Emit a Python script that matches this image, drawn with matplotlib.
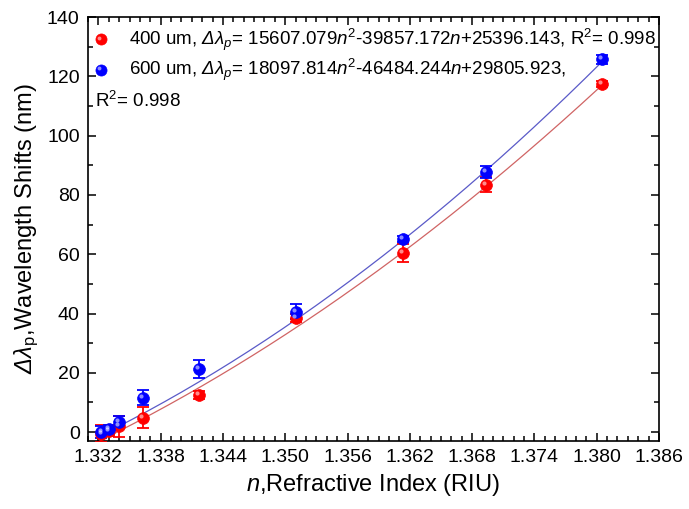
import numpy as np
import matplotlib
matplotlib.use("Agg")
import matplotlib.pyplot as plt
from matplotlib.ticker import MultipleLocator
from matplotlib.transforms import offset_copy

plt.rcParams['font.family'] = ['Liberation Sans', 'DejaVu Sans']
plt.rcParams['mathtext.fontset'] = 'custom'
plt.rcParams['mathtext.rm'] = 'Liberation Sans'
plt.rcParams['mathtext.it'] = 'Liberation Sans:italic'
plt.rcParams['mathtext.bf'] = 'Liberation Sans:bold'
# italic face also reachable through \mathsf, so capital Greek stays slanted
plt.rcParams['mathtext.sf'] = 'Liberation Sans:italic'

# Refractive index of the test solutions
n_riu = [1.3323, 1.3330, 1.3340, 1.3363, 1.3417, 1.3510, 1.3613, 1.3693, 1.3805]

# Wavelength shifts (nm) and standard deviations
shift_400 = [-0.5, 0.3, 2.0, 4.8, 12.5, 38.5, 60.5, 83.5, 117.3]
err_400 = [2.8, 1.5, 3.5, 3.5, 1.5, 1.5, 3.0, 2.5, 1.0]
shift_600 = [0.0, 1.0, 3.5, 11.6, 21.2, 40.6, 65.0, 87.8, 125.8]
err_600 = [2.0, 1.5, 1.8, 2.5, 3.0, 2.5, 1.0, 2.0, 1.5]

# Quadratic fit coefficients (a, b, c) for a*n^2 + b*n + c
fit_400 = [15607.079, -39857.172, 25396.143]
fit_600 = [18097.814, -46484.244, 29805.923]
r2_400 = 0.998
r2_600 = 0.998

x_ticks = [1.332, 1.338, 1.344, 1.350, 1.356, 1.362, 1.368, 1.374, 1.380, 1.386]
y_ticks = [0, 20, 40, 60, 80, 100, 120, 140]

fig = plt.figure(figsize=(6.89, 5.09), dpi=100)
ax = fig.add_axes([0.1277, 0.1336, 0.8288, 0.833])

red = '#ff0000'
blue = '#0000ff'
red_line = '#d06464'
blue_line = '#5a5ac8'

DL = r"\mathsf{Δλ}"


def sphere(ax, x, y, color, size=8.5, **kw):
    ax.plot(x, y, 'o', ms=size, mfc=color, mec=color, mew=0.5, zorder=4, **kw)
    hl = offset_copy(kw.get('transform', ax.transData), fig=fig, x=-1.2, y=1.4, units='points')
    ax.plot(x, y, 'o', ms=size * 0.35, mfc='white', mec='none', alpha=0.55,
            zorder=5, transform=hl, clip_on=kw.get('clip_on', True))


nn = np.linspace(n_riu[0], n_riu[-1], 300)
for coeffs, c in ((fit_400, red_line), (fit_600, blue_line)):
    ax.plot(nn, np.polyval(coeffs, nn), '-', color=c, lw=0.9, zorder=2)

for ys, es, c in ((shift_400, err_400, red), (shift_600, err_600, blue)):
    ax.errorbar(n_riu, ys, yerr=es, fmt='none', ecolor=c, elinewidth=1.3,
                capsize=4.5, capthick=1.3, zorder=3)
    sphere(ax, n_riu, ys, c)

ax.set_xlim(1.331, 1.386)
ax.set_ylim(-3, 140)
ax.set_xticks(x_ticks)
ax.set_xticklabels([f"{v:.3f}" for v in x_ticks])
ax.set_yticks(y_ticks)
ax.xaxis.set_minor_locator(MultipleLocator(0.001))
ax.yaxis.set_minor_locator(MultipleLocator(10))
ax.tick_params(which='both', direction='in', top=True, right=True,
               width=1.1, labelsize=14, pad=6)
ax.tick_params(which='major', length=6)
ax.tick_params(which='minor', length=3.5)
for s in ax.spines.values():
    s.set_linewidth(1.2)

ax.set_xlabel(r"$n$,Refractive Index (RIU)", fontsize=17, labelpad=4)
ax.set_ylabel(r"$" + DL + r"_\mathrm{p}$,Wavelength Shifts (nm)", fontsize=17, labelpad=4)


def eq_text(thick, coeffs):
    a, b, c = coeffs
    return (f"{thick} um, " + r"$" + DL + r"_\mathit{p}$" +
            f"= {a:.3f}" + r"$\mathit{n}^2$" + f"{b:.3f}" + r"$\mathit{n}$" +
            f"+{c:.3f},")


tfs = 13.5
sphere(ax, [0.022], [0.947], red, size=8, transform=ax.transAxes, clip_on=False)
ax.text(0.072, 0.947, eq_text(400, fit_400) + " R$^2$= " + f"{r2_400:.3f}",
        transform=ax.transAxes, fontsize=tfs, va='center', ha='left')
sphere(ax, [0.022], [0.875], blue, size=8, transform=ax.transAxes, clip_on=False)
ax.text(0.072, 0.875, eq_text(600, fit_600),
        transform=ax.transAxes, fontsize=tfs, va='center', ha='left')
ax.text(0.012, 0.803, "R$^2$= " + f"{r2_600:.3f}",
        transform=ax.transAxes, fontsize=tfs, va='center', ha='left')

fig.savefig("out.png", dpi=100)
